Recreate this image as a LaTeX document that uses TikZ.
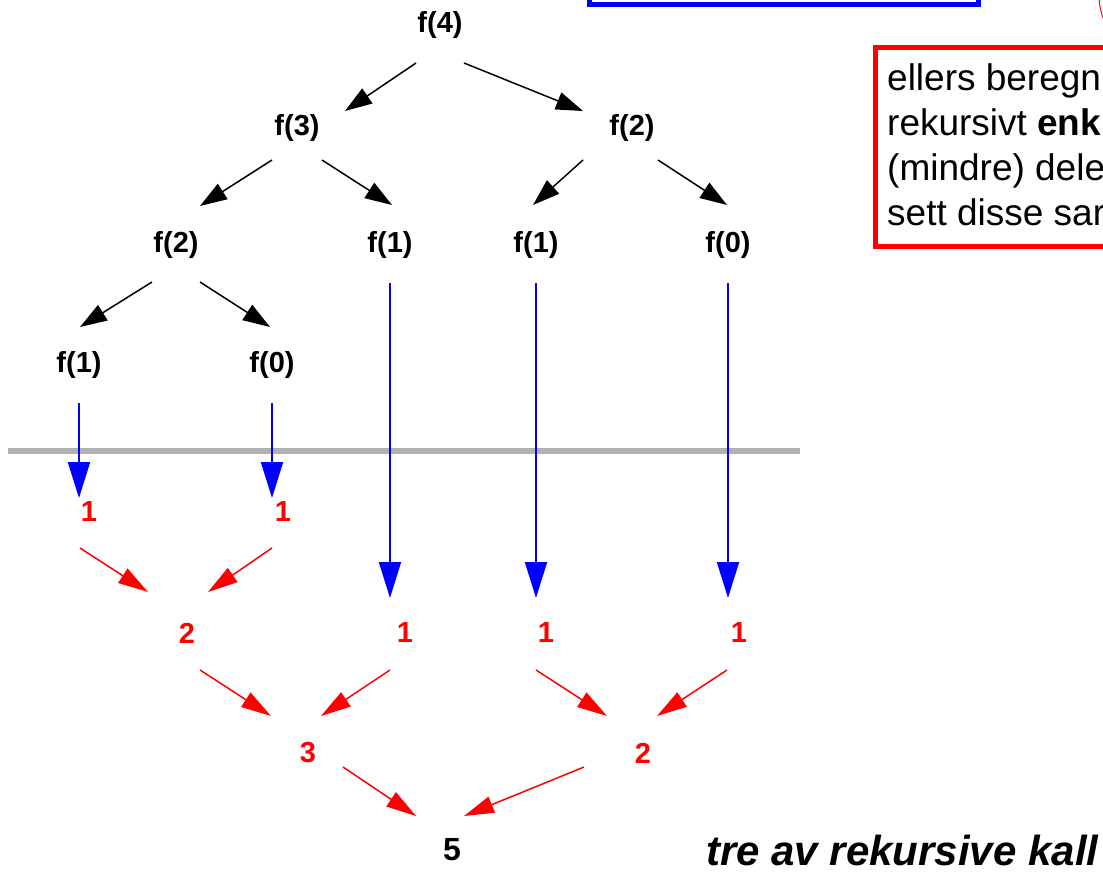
\documentclass[tikz,border=0pt]{standalone}
\usepackage{fontspec}
\setmainfont{Liberation Sans}
\usetikzlibrary{arrows.meta}
\begin{document}
\begin{tikzpicture}[x=1pt,y=-1pt,
  call/.style={font=\fontsize{29}{29}\selectfont\bfseries, inner sep=0pt},
  val/.style={font=\fontsize{29}{29}\selectfont\bfseries, text=red, inner sep=0pt},
  down/.style={draw=black, line width=1.5pt, -{Triangle[length=27pt,width=18pt]}},
  ret/.style={draw=blue, line width=2pt, -{Triangle[length=36pt,width=22pt]}},
  up/.style={draw=red, line width=1.5pt, -{Triangle[length=30pt,width=17pt]}},
  boxtext/.style={font=\fontsize{37}{45}\selectfont, anchor=base west, inner sep=0pt},
]
\useasboundingbox (0,0) rectangle (1103,873);

% boxes at the top
\draw[blue, line width=5pt] (589.5,-60) rectangle (978.5,4.5);
\node[draw=red, line width=5pt, minimum width=400pt, minimum height=199.5pt,
      anchor=north west, inner sep=0pt] (rbox) at (873,44.5) {};
\draw[red, line width=1pt] (1099,-2) .. controls (1100,8) .. (1103,18);
\node[boxtext] (l1) at (887,90) {ellers beregn};
\node[boxtext] (l2) at (887,135) {rekursivt \textbf{enk}};
\node[boxtext] (l3) at (887,180) {(mindre) dele};
\node[boxtext] (l4) at (887,225) {sett disse sar};

% call tree
\node[call] (f4)  at (440,25)  {f(4)};
\node[call] (f3)  at (297,128) {f(3)};
\node[call] (f2r) at (632,128) {f(2)};
\node[call] (f2l) at (176,245) {f(2)};
\node[call] (f1a) at (390,245) {f(1)};
\node[call] (f1b) at (536,245) {f(1)};
\node[call] (f0a) at (728,245) {f(0)};
\node[call] (f1c) at (79,365)  {f(1)};
\node[call] (f0b) at (272,365) {f(0)};

\draw[down] ([shift={(-24,38)}]f4.center)  -- ([shift={(48,-17)}]f3.center);
\draw[down] ([shift={(24,38)}]f4.center)   -- ([shift={(-49,-17)}]f2r.center);
\draw[down] ([shift={(-25,32)}]f3.center)  -- ([shift={(24,-39)}]f2l.center);
\draw[down] ([shift={(25,32)}]f3.center)   -- ([shift={(2,-40)}]f1a.center);
\draw[down] ([shift={(-49,32)}]f2r.center) -- ([shift={(-3,-40)}]f1b.center);
\draw[down] ([shift={(26,32)}]f2r.center)  -- ([shift={(-1,-40)}]f0a.center);
\draw[down] ([shift={(-24,37)}]f2l.center) -- ([shift={(1,-38)}]f1c.center);
\draw[down] ([shift={(24,37)}]f2l.center)  -- ([shift={(-2,-38)}]f0b.center);

% base-case line
\draw[black!30, line width=6pt] (8,451) coordinate (g1) -- (800,451) coordinate (g2);

% returned values
\node[val] (r1a) at (89,512)  {1};
\node[val] (r1b) at (283,512) {1};
\node[val] (n2)  at (187,633) {2};
\node[val] (n1a) at (405,633) {1};
\node[val] (n1b) at (546,633) {1};
\node[val] (n1c) at (739,633) {1};
\node[val] (n3)  at (308,753) {3};
\node[val] (m2)  at (643,753) {2};
\node[font=\fontsize{32}{32}\selectfont\bfseries, inner sep=0pt] (n5) at (452,850) {5};

\draw[ret] ([shift={(0,38)}]f1c.center) -- ([shift={(-10,-14)}]r1a.center);
\draw[ret] ([shift={(0,38)}]f0b.center) -- ([shift={(-11,-14)}]r1b.center);
\draw[ret] ([shift={(0,38)}]f1a.center) -- ([shift={(-15,-35)}]n1a.center);
\draw[ret] ([shift={(0,38)}]f1b.center) -- ([shift={(-10,-35)}]n1b.center);
\draw[ret] ([shift={(0,38)}]f0a.center) -- ([shift={(-11,-35)}]n1c.center);

\draw[up] ([shift={(-9,36)}]r1a.center)  -- ([shift={(-39,-41)}]n2.center);
\draw[up] ([shift={(-11,36)}]r1b.center) -- ([shift={(21,-41)}]n2.center);
\draw[up] ([shift={(13,37)}]n2.center)   -- ([shift={(-37,-37)}]n3.center);
\draw[up] ([shift={(-15,37)}]n1a.center) -- ([shift={(13,-37)}]n3.center);
\draw[up] ([shift={(-10,37)}]n1b.center) -- ([shift={(-36,-37)}]m2.center);
\draw[up] ([shift={(-12,37)}]n1c.center) -- ([shift={(14,-37)}]m2.center);
\draw[up] ([shift={(35,14)}]n3.center)   -- ([shift={(-36,-34)}]n5.center);
\draw[up] ([shift={(-59,14)}]m2.center)  -- ([shift={(12,-34)}]n5.center);

\node[font=\fontsize{42}{42}\selectfont\bfseries\itshape, anchor=base west, inner sep=0pt]
  (title) at (706,865) {tre av rekursive kall};
\end{tikzpicture}
\end{document}
